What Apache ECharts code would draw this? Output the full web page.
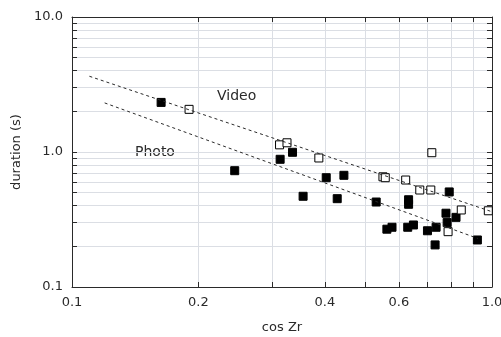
<!DOCTYPE html>
<html>
<head>
<meta charset="utf-8">
<script src="https://cdn.jsdelivr.net/npm/echarts@6/dist/echarts.min.js"></script>
<style>
  html, body { margin: 0; padding: 0; background: #fff; }
  #chart { width: 501px; height: 337px; }
</style>
</head>
<body>
<div id="chart"></div>
<script>
// photo points [cos Zr, duration]
const photoData = [
  [0.163, 2.33], [0.244, 0.727], [0.335, 0.995], [0.313, 0.883],
  [0.403, 0.645], [0.444, 0.672], [0.355, 0.47], [0.428, 0.451],
  [0.530, 0.426], [0.791, 0.506], [0.633, 0.443], [0.633, 0.41],
  [0.777, 0.352], [0.821, 0.328], [0.782, 0.30], [0.562, 0.268],
  [0.578, 0.277], [0.630, 0.277], [0.650, 0.288], [0.702, 0.261],
  [0.736, 0.277], [0.732, 0.205], [0.923, 0.223]
]
// video points
const videoData = [
  [0.190, 2.07], [0.312, 1.13], [0.325, 1.17], [0.387, 0.903],
  [0.719, 0.988], [0.550, 0.655], [0.557, 0.645], [0.623, 0.62],
  [0.673, 0.523], [0.715, 0.523], [0.845, 0.372], [0.980, 0.367],
  [0.786, 0.257]
]
// fitted lines, end points
const videoFit = [[0.110, 3.64], [1.0, 0.361]]
const photoFit = [[0.1196, 2.31], [0.925, 0.229]]

const xTicks = [0.1, 0.2, 0.3, 0.4, 0.5, 0.6, 0.7, 0.8, 0.9, 1.0]
const xLabels = [0.1, 0.2, 0.4, 0.6, 1.0]
const yTicks = [0.1, 0.2, 0.3, 0.4, 0.5, 0.6, 0.7, 0.8, 0.9, 1, 2, 3, 4, 5, 6, 7, 8, 9, 10]
const yLabels = [0.1, 1, 10]

const font = 'DejaVu Sans'
const ink = '#2a2a2a'

const chart = echarts.init(document.getElementById('chart'))

// tick axis: line + inward ticks, its default labels made transparent
function tickAxis(min, max, pos, ticks) {
  return {
    type: 'log', min: min, max: max, position: pos,
    axisLine: { lineStyle: { color: ink, width: 1 } },
    axisTick: { show: true, inside: true, length: 5, customValues: ticks, lineStyle: { color: ink } },
    axisLabel: { color: 'rgba(0,0,0,0)' }
  }
}

// label axis: labels + name only (label customValues hides ticks, so ticks live on the other axis)
function labelAxis(min, max, pos, name, gap, labels) {
  return {
    type: 'log', min: min, max: max, position: pos,
    name: name, nameLocation: 'middle', nameGap: gap,
    nameTextStyle: { fontFamily: font, fontSize: 13, color: ink },
    axisLine: { show: false },
    axisTick: { show: false },
    axisLabel: {
      customValues: labels, margin: 9,
      fontFamily: font, fontSize: 13, color: ink,
      formatter: v => v.toFixed(1)
    },
    splitLine: { show: false }
  }
}

chart.setOption({
  grid: { left: 72, right: 9, top: 17, bottom: 50, containLabel: false, outerBoundsMode: 'none' },
  xAxis: [
    tickAxis(0.1, 1.0, 'bottom', xTicks),
    labelAxis(0.1, 1.0, 'bottom', 'cos Zr', 34, xLabels),
    tickAxis(0.1, 1.0, 'top', xTicks)
  ],
  yAxis: [
    tickAxis(0.1, 10, 'left', yTicks),
    labelAxis(0.1, 10, 'left', 'duration (s)', 46, yLabels),
    tickAxis(0.1, 10, 'right', yTicks)
  ],
  graphic: [
    { type: 'text', left: 217, top: 89, style: { text: 'Video', font: '14px "DejaVu Sans"', fill: ink } },
    { type: 'text', left: 135, top: 145, style: { text: 'Photo', font: '14px "DejaVu Sans"', fill: ink } }
  ],
  series: [
    {
      type: 'line', data: videoFit, symbol: 'none', silent: true,
      xAxisIndex: 1, yAxisIndex: 1,
      lineStyle: { color: ink, width: 1, type: [3, 3] }
    },
    {
      type: 'line', data: photoFit, symbol: 'none', silent: true,
      xAxisIndex: 2, yAxisIndex: 2,
      lineStyle: { color: ink, width: 1, type: [3, 3] }
    },
    {
      name: 'Photo', type: 'scatter', data: photoData, symbol: 'rect', symbolSize: 8,
      itemStyle: { color: '#000', borderColor: '#000', borderWidth: 1, opacity: 1 }
    },
    {
      name: 'Video', type: 'scatter', data: videoData, symbol: 'rect', symbolSize: 8,
      itemStyle: { color: '#fff', borderColor: '#000', borderWidth: 1, opacity: 1 }
    }
  ]
})
</script>
</body>
</html>
